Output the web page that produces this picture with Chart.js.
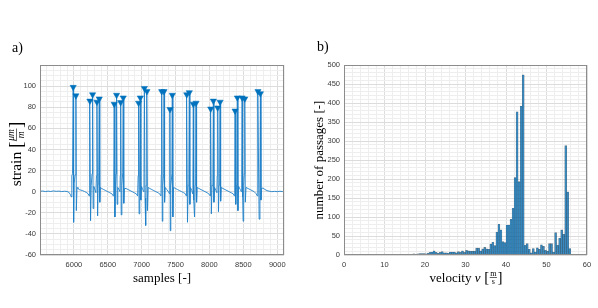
<!DOCTYPE html>
<html><head><meta charset="utf-8">
<script src="https://cdn.jsdelivr.net/npm/chart.js@4/dist/chart.umd.min.js"></script>
<style>
html,body{margin:0;padding:0;background:#fff;}
#wrap{position:relative;width:598px;height:308px;overflow:hidden;}
canvas{position:absolute;top:0;}
</style></head><body>
<div id="wrap">
<canvas id="c1" width="299" height="308" style="left:0"></canvas>
<canvas id="c2" width="299" height="308" style="left:299px"></canvas>
</div>
<script>
// ---------- data: panel a) strain signal ----------
const samples = [5500,5540,5580,5620,5660,5700,5740,5780,5820,5860,5900,5930,5950,5962,
5970,5980,5990,5996,6004,6018,6030,6036,6046,6060,6080,6100,6130,6160,6190,6210,6225,
6230,6236,6246,6256,6268,6276,6284,6294,6310,6325,6333,6340,6350,6358,6366,6374,6382,6392,6410,6440,6470,6500,6530,6560,6580,
6588,6595,6605,6614,6622,6630,6638,6648,6665,6680,6684,6690,6698,6708,6720,6728,6736,6746,6770,6800,6830,6860,6890,6920,6940,
6948,6955,6962,6970,6974,6980,6988,6998,7015,7030,7034,7040,7050,7059,7066,7072,7078,7086,7096,7120,7150,7180,7210,7240,7265,7285,
7290,7295,7304,7312,7324,7330,7338,7348,7370,7395,7410,7414,7418,7422,7430,7446,7452,7460,7470,7500,7530,7560,7590,7620,7645,7658,
7660,7665,7676,7686,7696,7703,7711,7720,7740,7752,7756,7762,7768,7780,7790,7796,7802,7810,7820,7845,7875,7905,7935,7965,7990,8010,
8014,8019,8028,8038,8051,8058,8066,8076,8095,8110,8116,8122,8133,8142,8150,8157,8165,8175,8200,8230,8260,8290,8320,8350,8368,
8373,8378,8388,8398,8405,8412,8420,8430,8455,8470,8476,8482,8490,8497,8505,8514,8521,8529,8540,8570,8600,8630,8660,8690,8706,
8710,8716,8733,8745,8752,8760,8770,8790,8820,8850,8880,8920,8960,9000,9040,9080,9100];
const strain = [0.3,0.6,0.1,0.5,0.2,0.7,0.3,0.5,0.1,0.4,0.2,-0.8,-3,-5,
15,17,99,-29,8,16,91,-18,4,3,2,1.5,1,0,-1,-2,-4,
14,86,-27.5,6,17,92,-16,5,2,-1,15,85,-23,7,18,88,-10,4,3,2,1,0,-1,-2,-4,
14,83,-24,6,17,91.5,-12,4,2,0,15,84.6,-22,6,18,89,-11,3,3,2,1,0,-1,-2,-4,
15,84,-21,6,16,89,-8,5,2,0,17,98,-6,-32,6,18,95,-18,4,3,2,1,0,-1,-2,-4,
16,95,-28,6,17,95,-10,4,2,0,-2,18,78,-37,5,17,91.5,-24,4,3,2,1,0,-1,-2,-4,
15,92,-29,6,17,94,-12,4,1,-2,15,83,-8,-24,6,17,84,-10,4,3,2,1,0,-1,-2,-4,
15,78.5,-21,6,17,86,-10,4,1,-1,15,79.5,-19,6,17,85,-9,4,3,2,1,0,-1,-2,-4,
14,76.6,-12,6,16,89,-18,5,2,0,16,89,-5,-28,6,17,88,-10,4,3,2,1,0,-2,-4,
15,95,-26,10,93,-8,3,3.5,2,1,0.5,0,0.3,0,0.4,0.1,0.2];
// detected peaks (markers)
const peakSamples = [5990,6030,6236,6276,6340,6374,6595,6630,6690,6728,6955,6980,7040,7078,7295,7330,
7418,7452,7665,7703,7762,7802,8019,8058,8122,8157,8378,8412,8482,8521,8716,8752];
const peakStrain = [99,91,86,92,85,88,83,91.5,84.6,89,84,89,98,95,95,95,
78,91.5,92,94,83,84,78.5,86,79.5,85,76.6,89,89,88,95,93];
const strainTicks = [-60,-40,-20,0,20,40,60,80,100];
const sampleTicks = [6000,6500,7000,7500,8000,8500,9000];

// ---------- data: panel b) velocity histogram (bin centres, 0.5 m/s bins) ----------
const velocity = [7.25,7.75,9.25,9.75,10.75,11.25,12.75,13.25,14.25,14.75,15.75,16.75,17.25,17.75,18.25,18.75,19.25,19.75,
20.25,20.75,21.25,21.75,22.25,22.75,23.25,23.75,24.25,24.75,25.25,25.75,26.25,26.75,27.25,27.75,28.25,28.75,29.25,29.75,
30.25,30.75,31.25,31.75,32.25,32.75,33.25,33.75,34.25,34.75,35.25,35.75,36.25,36.75,37.25,37.75,38.25,38.75,39.25,39.75,
40.25,40.75,41.25,41.75,42.25,42.75,43.25,43.75,44.25,44.75,45.25,45.75,46.25,46.75,47.25,47.75,48.25,48.75,49.25,49.75,
50.25,50.75,51.25,51.75,52.25,52.75,53.25,53.75,54.25,54.75,55.25,55.75];
const passages = [1,1,1,1,2,1,1,1,1,1,1,2,3,2,3,4,4,4,
3,5,7,8,11,7,5,7,9,6,6,5,8,8,8,6,9,7,11,7,
12,11,10,10,10,18,18,11,16,20,16,15,29,34,25,60,81,66,35,33,
79,79,94,123,204,377,193,392,474,26,30,15,6,17,8,19,15,27,23,13,
10,30,30,8,59,26,44,66,55,288,166,17];
const passageTicks = [0,50,100,150,200,250,300,350,400,450,500];
const velocityTicks = [0,10,20,30,40,50,60];

// ---------- styling helpers ----------
const SERIF = '"Liberation Serif","DejaVu Serif",serif';
const SANS = '"Liberation Sans",Arial,sans-serif';
const tickFont = {family: SANS, size: 7.5};
const tickColor = '#3a3a3a';
function gridColor(major){
  return ctx => {
    const v = ctx.tick ? ctx.tick.value : 0;
    const r = Math.abs(v % major);
    return (r < 1e-6 || Math.abs(r - major) < 1e-6) ? '#dcdcdc' : '#eeeeee';
  };
}
function labelCb(list){ return v => list.includes(Math.round(v*1000)/1000) ? String(v) : ''; }

function drawRun(ctx, cx, cy, rot, parts){
  ctx.save();
  ctx.translate(cx, cy); ctx.rotate(rot);
  ctx.fillStyle = '#000'; ctx.strokeStyle = '#000';
  ctx.textBaseline = 'alphabetic'; ctx.textAlign = 'left';
  let total = 0;
  const widths = parts.map(p => {
    let w;
    ctx.font = p.font;
    if (p.frac){ w = Math.max(ctx.measureText(p.frac[0]).width, ctx.measureText(p.frac[1]).width) + 2; }
    else { w = ctx.measureText(p.s).width; }
    total += w; return w;
  });
  let x = -total/2;
  parts.forEach((p, i) => {
    ctx.font = p.font;
    if (p.frac){
      const w = widths[i];
      const n = ctx.measureText(p.frac[0]).width, d = ctx.measureText(p.frac[1]).width;
      ctx.fillText(p.frac[0], x + (w-n)/2, p.ny !== undefined ? p.ny : -1.5);
      ctx.fillText(p.frac[1], x + (w-d)/2, p.dy2 !== undefined ? p.dy2 : 6.5);
      ctx.lineWidth = 0.6;
      ctx.beginPath(); ctx.moveTo(x+0.5, 0.5); ctx.lineTo(x+w-0.5, 0.5); ctx.stroke();
    } else {
      ctx.fillText(p.s, x, p.dy !== undefined ? p.dy : 4.5);
    }
    x += widths[i];
  });
  ctx.restore();
}

function framePlugin(labels){
  return {
    id: 'frame',
    afterDraw(chart){
      const {ctx, chartArea: a} = chart;
      ctx.save();
      ctx.strokeStyle = '#8c8c8c'; ctx.lineWidth = 1;
      ctx.strokeRect(Math.round(a.left)+0.5, Math.round(a.top)+0.5, Math.round(a.right-a.left)-1, Math.round(a.bottom-a.top)-1);
      ctx.restore();
      labels(chart.ctx);
    }
  };
}

const T = '13px ' + SERIF, TI = 'italic 13px ' + SERIF, TB = '15px ' + SERIF, TFU = '8px ' + SERIF;
const TY = '15.5px ' + SERIF, TYB = '19px ' + SERIF, TYF = 'italic 9.5px ' + SERIF;

// ---------- panel a) ----------
new Chart(document.getElementById('c1'), {
  type: 'line',
  data: {
    datasets: [
      {
        data: peakSamples.map((x, i) => ({x, y: peakStrain[i]})),
        showLine: false, pointStyle: 'triangle', rotation: 180, pointRadius: 3.6,
        backgroundColor: '#0072bd', borderColor: '#0072bd', borderWidth: 0.5, order: 0
      },
      {
        data: samples.map((x, i) => ({x, y: strain[i]})),
        borderColor: '#1f80c8', borderWidth: 0.9, pointRadius: 0, tension: 0, fill: false, order: 1
      }
    ]
  },
  options: {
    responsive: false, animation: false,
    layout: {padding: {top: 65, right: 15, left: 0, bottom: 0}, autoPadding: false},
    plugins: {legend: {display: false}, tooltip: {enabled: false}},
    scales: {
      x: {
        type: 'linear', min: 5500, max: 9100,
        afterFit: s => { s.height = 53; },
        border: {display: false},
        grid: {color: gridColor(500), drawTicks: false, lineWidth: 1},
        ticks: {stepSize: 100, autoSkip: false, maxRotation: 0, minRotation: 0, maxTicksLimit: 1000,
                padding: 5, font: tickFont, color: tickColor, callback: labelCb(sampleTicks)}
      },
      y: {
        type: 'linear', min: -60, max: 120,
        afterFit: s => { s.width = 40; },
        border: {display: false},
        grid: {color: gridColor(20), drawTicks: false, lineWidth: 1},
        ticks: {stepSize: 5, autoSkip: false, maxTicksLimit: 1000,
                padding: 4, font: tickFont, color: tickColor, callback: labelCb(strainTicks)}
      }
    }
  },
  plugins: [framePlugin(ctx => {
    ctx.save(); ctx.font = '14px ' + SERIF; ctx.fillStyle = '#000'; ctx.textBaseline = 'middle';
    ctx.fillText('a)', 12, 48); ctx.restore();
    drawRun(ctx, 162, 277, 0, [{s: 'samples [-]', font: T}]);
    drawRun(ctx, 16, 154, -Math.PI/2, [{s: 'strain ', font: TY, dy: 5}, {s: '[', font: TYB, dy: 6},
      {frac: ['\u03bcm', 'm'], font: TYF, ny: -2, dy2: 8}, {s: ']', font: TYB, dy: 6}]);
  })]
});

// ---------- panel b) ----------
new Chart(document.getElementById('c2'), {
  type: 'bar',
  data: {
    datasets: [{
      data: velocity.map((x, i) => ({x, y: passages[i]})),
      backgroundColor: 'rgba(0,114,189,0.72)', borderColor: 'rgba(30,30,30,0.5)', borderWidth: 0.4,
      barPercentage: 1, categoryPercentage: 1
    }]
  },
  options: {
    responsive: false, animation: false,
    layout: {padding: {top: 65, right: 11, left: 0, bottom: 0}, autoPadding: false},
    plugins: {legend: {display: false}, tooltip: {enabled: false}},
    scales: {
      x: {
        type: 'linear', min: 0, max: 60, offset: false,
        afterFit: s => { s.height = 53; },
        border: {display: false},
        grid: {color: gridColor(10), drawTicks: false, lineWidth: 1, offset: false},
        ticks: {stepSize: 2, autoSkip: false, maxRotation: 0, minRotation: 0, maxTicksLimit: 1000,
                padding: 5, font: tickFont, color: tickColor, callback: labelCb(velocityTicks)}
      },
      y: {
        type: 'linear', min: 0, max: 500,
        afterFit: s => { s.width = 45; },
        border: {display: false},
        grid: {color: gridColor(50), drawTicks: false, lineWidth: 1},
        ticks: {stepSize: 10, autoSkip: false, maxTicksLimit: 1000,
                padding: 4, font: tickFont, color: tickColor, callback: labelCb(passageTicks)}
      }
    }
  },
  plugins: [framePlugin(ctx => {
    ctx.save(); ctx.font = '14px ' + SERIF; ctx.fillStyle = '#000'; ctx.textBaseline = 'middle';
    ctx.fillText('b)', 18, 47); ctx.restore();
    drawRun(ctx, 167, 277, 0, [{s: 'velocity ', font: T}, {s: 'v', font: TI}, {s: ' [', font: TB, dy: 5}, {frac: ['m', 's'], font: TFU}, {s: ']', font: TB, dy: 5}]);
    drawRun(ctx, 19, 160, -Math.PI/2, [{s: 'number of passages [-]', font: T}]);
  })]
});
</script>
</body></html>
